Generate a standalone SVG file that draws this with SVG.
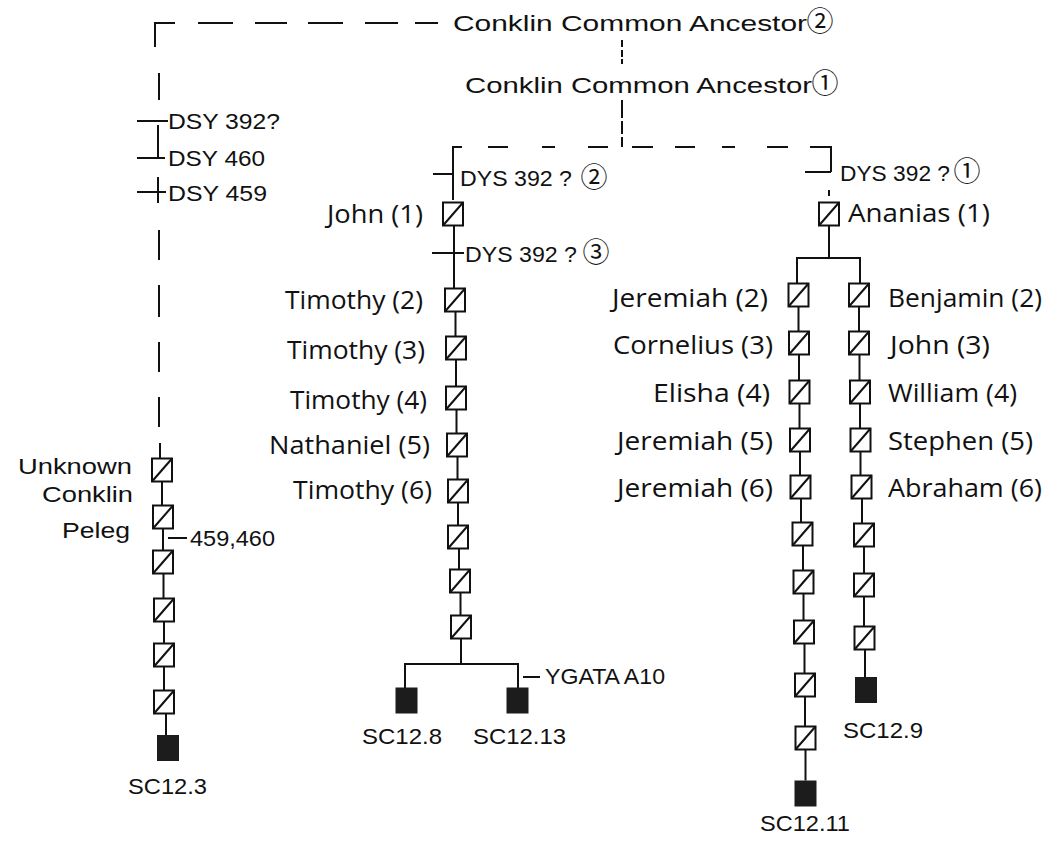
<svg xmlns="http://www.w3.org/2000/svg" xmlns:xlink="http://www.w3.org/1999/xlink" width="1058" height="846" viewBox="0 0 1058 846">
<style>
.ln{stroke:#111;stroke-width:2;fill:none}
.bx{fill:#fff;stroke:#111;stroke-width:2}
.dg{stroke:#111;stroke-width:2}
.fl{fill:#1c1c1c}
.a{font-family:"Liberation Sans",Arial,sans-serif;font-size:22.5px;fill:#111}
.n{font-family:"Open Sans","DejaVu Sans",sans-serif;font-size:26px;fill:#111}
.c{font-family:"Noto Sans CJK JP","DejaVu Sans",sans-serif;font-size:27px;fill:#111;text-anchor:middle}
</style>
<defs>
<g id="pb"><rect class="bx" x="-10" y="-11.5" width="20" height="23"/><line class="dg" x1="-10" y1="11.5" x2="10" y2="-11.5"/></g>
<rect id="fb" class="fl" x="-11" y="-13" width="22" height="26"/>
</defs>
<rect width="1058" height="846" fill="#fff"/>
<g id="connectors">
<path class="ln" d="M155,47 V23 H175 M198,23 H233 M255,23 H287 M308,23 H343 M365,23 H398 M415,23 H438"/>
<path class="ln" d="M159,73 V100 M137,121 H168 M158,125 V158 M137,158 H165 M158,177 V203 M137,192 H166 M159,230 V260 M159,285 V317 M159,342 V372 M159,397 V427 M160,443 V458.5"/>
<path class="ln" d="M622,40 V47 M622,50 V57 M622,59 V64 M622,100 V118 M622,121 V134 M622,137 V147"/>
<path class="ln" d="M453,200 V147 H462 M488,147 H508 M542,147 H555 M588,147 H608 M632,147 H653 M675,147 H695 M722,147 H735 M767,147 H788 M810,147 H831 V172 M805,172 H831 M829,190 V196 M433,174 H453"/>
<path class="ln" d="M162,481.5 V505.5 M163,528.5 V550.5 M163.5,573.5 V598.5 M164,621.5 V643.5 M164,666.5 V690.5 M166,713.5 V735 M168,538 H187"/>
<path class="ln" d="M454,225.5 V288.5 M432,253 H464 M455.5,311.5 V336.5 M456,359.5 V386.5 M456.5,409.5 V433.5 M457.5,456.5 V479.5 M458,502.5 V525.5 M459,548.5 V569.5 M460.5,592.5 V615.5 M461,638.5 V664 M405,688 V664 H518 V688 M523,677 H540"/>
<path class="ln" d="M829,225.5 V258 M797,283 V258 H860 V283"/>
<path class="ln" d="M798.5,306.5 V331.5 M799,354.5 V380.5 M799.5,403.5 V428.5 M800,451.5 V475.5 M801,498.5 V522.5 M803,545.5 V570.5 M803.5,593.5 V620.5 M804.5,643.5 V673.5 M805,696.5 V726.5 M805.5,749.5 V780.5"/>
<path class="ln" d="M859,306.5 V331.5 M859.5,354.5 V380.5 M860,403.5 V428.5 M860.5,451.5 V475.5 M862,498.5 V523.5 M864,546.5 V573.5 M864,596.5 V626.5 M865,649.5 V677"/>
</g>
<g id="ancestor2"><text class="a" x="453" y="31" font-size="27" textLength="354" lengthAdjust="spacingAndGlyphs">Conklin Common Ancestor</text><text class="c" x="820" y="31">②</text></g>
<g id="ancestor1"><text class="a" x="465" y="93" font-size="27" textLength="347" lengthAdjust="spacingAndGlyphs">Conklin Common Ancestor</text><text class="c" x="825" y="93">①</text></g>
<g id="dsy392"><text class="a" x="168" y="129" textLength="112" lengthAdjust="spacingAndGlyphs">DSY 392?</text></g>
<g id="dsy460"><text class="a" x="168" y="166" textLength="97" lengthAdjust="spacingAndGlyphs">DSY 460</text></g>
<g id="dsy459"><text class="a" x="168" y="201" textLength="99" lengthAdjust="spacingAndGlyphs">DSY 459</text></g>
<g id="dys2"><text class="a" x="460" y="186" textLength="112" lengthAdjust="spacingAndGlyphs">DYS 392 ?</text><text class="c" x="594" y="187">②</text></g>
<g id="dys3"><text class="a" x="465" y="262" textLength="112" lengthAdjust="spacingAndGlyphs">DYS 392 ?</text><text class="c" x="596" y="262">③</text></g>
<g id="dys1"><text class="a" x="840" y="181" textLength="110" lengthAdjust="spacingAndGlyphs">DYS 392 ?</text><text class="c" x="967" y="181">①</text></g>
<g id="unknown"><use xlink:href="#pb" x="162" y="470"/><text class="a" x="18" y="474" textLength="114" lengthAdjust="spacingAndGlyphs">Unknown</text><text class="a" x="42" y="502" textLength="91" lengthAdjust="spacingAndGlyphs">Conklin</text></g>
<g id="peleg"><use xlink:href="#pb" x="163" y="517"/><text class="a" x="62" y="538" textLength="68" lengthAdjust="spacingAndGlyphs">Peleg</text><text class="a" x="190" y="546" textLength="85" lengthAdjust="spacingAndGlyphs">459,460</text></g>
<g id="l3"><use xlink:href="#pb" x="163" y="562"/></g>
<g id="l4"><use xlink:href="#pb" x="164" y="610"/></g>
<g id="l5"><use xlink:href="#pb" x="164" y="655"/></g>
<g id="l6"><use xlink:href="#pb" x="164" y="702"/></g>
<g id="sc12-3"><use xlink:href="#fb" x="168" y="748"/><text class="a" x="128" y="794" textLength="79" lengthAdjust="spacingAndGlyphs">SC12.3</text></g>
<g id="john1"><use xlink:href="#pb" x="453" y="214"/><text class="n" x="327" y="223" textLength="96" lengthAdjust="spacingAndGlyphs">John (1)</text></g>
<g id="timothy2"><use xlink:href="#pb" x="455" y="300"/><text class="n" x="285" y="309" textLength="138" lengthAdjust="spacingAndGlyphs">Timothy (2)</text></g>
<g id="timothy3"><use xlink:href="#pb" x="456" y="348"/><text class="n" x="287" y="359" textLength="138" lengthAdjust="spacingAndGlyphs">Timothy (3)</text></g>
<g id="timothy4"><use xlink:href="#pb" x="456" y="398"/><text class="n" x="290" y="409" textLength="137" lengthAdjust="spacingAndGlyphs">Timothy (4)</text></g>
<g id="nathaniel5"><use xlink:href="#pb" x="457" y="445"/><text class="n" x="269" y="454" textLength="161" lengthAdjust="spacingAndGlyphs">Nathaniel (5)</text></g>
<g id="timothy6"><use xlink:href="#pb" x="458" y="491"/><text class="n" x="293" y="499" textLength="139" lengthAdjust="spacingAndGlyphs">Timothy (6)</text></g>
<g id="m7"><use xlink:href="#pb" x="458" y="537"/></g>
<g id="m8"><use xlink:href="#pb" x="460" y="581"/></g>
<g id="m9"><use xlink:href="#pb" x="461" y="627"/></g>
<g id="sc12-8"><use xlink:href="#fb" x="406.5" y="700.5"/><text class="a" x="362" y="744" textLength="80" lengthAdjust="spacingAndGlyphs">SC12.8</text></g>
<g id="sc12-13"><use xlink:href="#fb" x="517.5" y="700.5"/><text class="a" x="473" y="744" textLength="93" lengthAdjust="spacingAndGlyphs">SC12.13</text><text class="a" x="545" y="684" textLength="120" lengthAdjust="spacingAndGlyphs">YGATA A10</text></g>
<g id="ananias1"><use xlink:href="#pb" x="829" y="214"/><text class="n" x="848" y="222" textLength="142" lengthAdjust="spacingAndGlyphs">Ananias (1)</text></g>
<g id="jeremiah2"><use xlink:href="#pb" x="798.5" y="295"/><text class="n" x="612" y="307" textLength="156" lengthAdjust="spacingAndGlyphs">Jeremiah (2)</text></g>
<g id="cornelius3"><use xlink:href="#pb" x="799" y="343"/><text class="n" x="613" y="354" textLength="160" lengthAdjust="spacingAndGlyphs">Cornelius (3)</text></g>
<g id="elisha4"><use xlink:href="#pb" x="799.5" y="392"/><text class="n" x="653" y="402" textLength="117" lengthAdjust="spacingAndGlyphs">Elisha (4)</text></g>
<g id="jeremiah5"><use xlink:href="#pb" x="800" y="440"/><text class="n" x="617" y="450" textLength="156" lengthAdjust="spacingAndGlyphs">Jeremiah (5)</text></g>
<g id="jeremiah6"><use xlink:href="#pb" x="800.5" y="487"/><text class="n" x="617" y="497" textLength="156" lengthAdjust="spacingAndGlyphs">Jeremiah (6)</text></g>
<g id="j7"><use xlink:href="#pb" x="802.5" y="534"/></g>
<g id="j8"><use xlink:href="#pb" x="803.5" y="582"/></g>
<g id="j9"><use xlink:href="#pb" x="804" y="632"/></g>
<g id="j10"><use xlink:href="#pb" x="805" y="685"/></g>
<g id="j11"><use xlink:href="#pb" x="805.5" y="738"/></g>
<g id="sc12-11"><use xlink:href="#fb" x="805.5" y="793.5"/><text class="a" x="760" y="831" textLength="90" lengthAdjust="spacingAndGlyphs">SC12.11</text></g>
<g id="benjamin2"><use xlink:href="#pb" x="859" y="295"/><text class="n" x="888" y="307" textLength="154" lengthAdjust="spacingAndGlyphs">Benjamin (2)</text></g>
<g id="john3"><use xlink:href="#pb" x="859" y="343"/><text class="n" x="890" y="354" textLength="100" lengthAdjust="spacingAndGlyphs">John (3)</text></g>
<g id="william4"><use xlink:href="#pb" x="860" y="392"/><text class="n" x="888" y="402" textLength="129" lengthAdjust="spacingAndGlyphs">William (4)</text></g>
<g id="stephen5"><use xlink:href="#pb" x="860.5" y="440"/><text class="n" x="888" y="450" textLength="145" lengthAdjust="spacingAndGlyphs">Stephen (5)</text></g>
<g id="abraham6"><use xlink:href="#pb" x="861.5" y="487"/><text class="n" x="888" y="497" textLength="154" lengthAdjust="spacingAndGlyphs">Abraham (6)</text></g>
<g id="b7"><use xlink:href="#pb" x="864" y="535"/></g>
<g id="b8"><use xlink:href="#pb" x="864" y="585"/></g>
<g id="b9"><use xlink:href="#pb" x="864.5" y="638"/></g>
<g id="sc12-9"><use xlink:href="#fb" x="866" y="690"/><text class="a" x="843" y="738" textLength="80" lengthAdjust="spacingAndGlyphs">SC12.9</text></g>
</svg>
